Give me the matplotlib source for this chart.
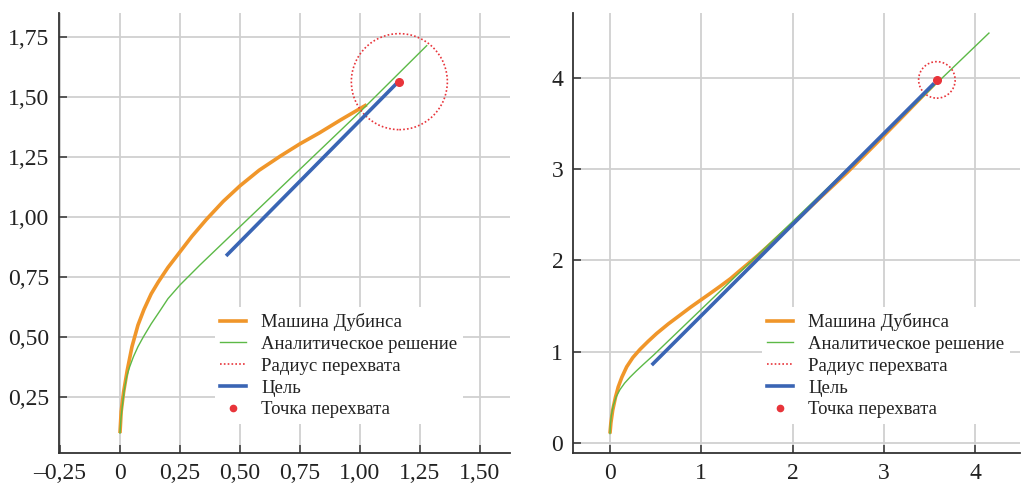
import matplotlib
matplotlib.use("Agg")
import matplotlib.pyplot as plt
from matplotlib.patches import Circle
from matplotlib.ticker import FuncFormatter
from matplotlib.lines import Line2D

plt.rcParams["font.family"] = ["Liberation Serif", "DejaVu Serif"]

# левая панель
dub_x_l = [0, 0.005, 0.015, 0.03, 0.05, 0.075, 0.10, 0.13, 0.16, 0.20, 0.25, 0.30, 0.36,
           0.43, 0.50, 0.58, 0.67, 0.75, 0.83, 0.92, 1.028]
dub_y_l = [0.10, 0.19, 0.27, 0.36, 0.46, 0.55, 0.615, 0.68, 0.73, 0.79, 0.855, 0.92, 0.99,
           1.065, 1.13, 1.195, 1.255, 1.305, 1.35, 1.405, 1.468]
an_x_l = [0, 0.004, 0.011, 0.018, 0.028, 0.04, 0.056, 0.075, 0.097, 0.13, 0.167, 0.20,
          0.25, 0.333, 0.5, 1.004, 1.278]
an_y_l = [0.10, 0.16, 0.224, 0.28, 0.335, 0.375, 0.418, 0.46, 0.50, 0.555, 0.61, 0.66,
          0.717, 0.80, 0.96, 1.442, 1.714]
tgt_x_l = [0.442, 1.153]
tgt_y_l = [0.838, 1.557]
hit_l = (1.164, 1.564)
radius_l = 0.2
xticks_l = [-0.25, 0, 0.25, 0.5, 0.75, 1.0, 1.25, 1.5]
yticks_l = [0.25, 0.5, 0.75, 1.0, 1.25, 1.5, 1.75]

# правая панель
dub_x_r = [0, 0.01, 0.03, 0.06, 0.091, 0.13, 0.183, 0.25, 0.329, 0.42, 0.512, 0.64, 0.767,
           0.88, 0.986, 1.1, 1.205, 1.32, 1.425, 1.52, 1.62, 1.72, 1.85, 2.0, 2.3, 2.6,
           2.9, 3.2, 3.55]
dub_y_r = [0.103, 0.22, 0.36, 0.50, 0.615, 0.72, 0.834, 0.935, 1.025, 1.115, 1.20, 1.305,
           1.40, 1.485, 1.56, 1.64, 1.715, 1.80, 1.89, 1.97, 2.055, 2.145, 2.265, 2.40,
           2.685, 2.965, 3.265, 3.57, 3.93]
an_x_r = [0, 0.005, 0.015, 0.036, 0.07, 0.11, 0.16, 0.219, 0.29, 0.365, 0.475, 4.15]
an_y_r = [0.103, 0.20, 0.30, 0.41, 0.51, 0.585, 0.655, 0.72, 0.79, 0.86, 0.96, 4.49]
tgt_x_r = [0.457, 3.55]
tgt_y_r = [0.853, 3.94]
hit_r = (3.58, 3.977)
radius_r = 0.2
xticks_r = [0, 1, 2, 3, 4]
yticks_r = [0, 1, 2, 3, 4]

labels = ["Машина Дубинса", "Аналитическое решение", "Радиус перехвата", "Цель", "Точка перехвата"]

c_orange = "#f0962a"
c_green = "#5cb947"
c_red = "#e8343a"
c_blue = "#3a65b4"


def comma(v, pos):
    if abs(v) < 1e-9:
        return "0"
    s = ("%.2f" % abs(v)).replace(".", ",")
    return ("\u2013" + s) if v < 0 else s


def panel(ax, dx, dy, ax_, ay_, tx, ty, hit, r, xt, yt, xlim, ylim, fmt, leg_x):
    ax.grid(True, color="#d0d0d0", lw=1.3, zorder=0)
    ax.plot(dx, dy, color=c_orange, lw=2.6, zorder=3, solid_capstyle="butt")
    ax.plot(ax_, ay_, color=c_green, lw=1.0, zorder=4)
    ax.add_patch(Circle(hit, r, fill=False, ls=(0, (1, 1.3)), lw=1.2, ec=c_red, zorder=5))
    ax.plot(tx, ty, color=c_blue, lw=2.6, zorder=5, solid_capstyle="butt")
    ax.plot([hit[0]], [hit[1]], "o", color=c_red, ms=5.5, zorder=6)

    ax.set_xlim(*xlim)
    ax.set_ylim(*ylim)
    ax.set_xticks(xt)
    ax.set_yticks(yt)
    if fmt:
        ax.xaxis.set_major_formatter(FuncFormatter(comma))
        ax.yaxis.set_major_formatter(FuncFormatter(comma))
    ax.tick_params(direction="in", length=6, width=1.1, color="#333333",
                   labelsize=17, pad=7, labelcolor="#222222")
    for s in ["top", "right"]:
        ax.spines[s].set_visible(False)
    for s in ["left", "bottom"]:
        ax.spines[s].set_color("#333333")
        ax.spines[s].set_linewidth(1.3)

    handles = [
        Line2D([], [], color=c_orange, lw=2.6),
        Line2D([], [], color=c_green, lw=1.0),
        Line2D([], [], color=c_red, lw=1.2, ls=(0, (1, 1.3))),
        Line2D([], [], color=c_blue, lw=2.6),
        Line2D([], [], color=c_red, marker="o", ls="none", ms=4.5),
    ]
    leg = ax.legend(handles, labels, loc="lower left", bbox_to_anchor=(leg_x, 0.066),
                    fontsize=13.5, frameon=True, fancybox=False, framealpha=1,
                    edgecolor="none", facecolor="white", handlelength=1.4,
                    handletextpad=0.8, labelspacing=0.25, borderpad=0.3,
                    borderaxespad=0)
    leg.set_zorder(10)
    for t in leg.get_texts():
        t.set_color("#222222")


fig = plt.figure(figsize=(10.21, 4.83), dpi=100)
ax1 = fig.add_axes([0.0578, 0.0621, 0.4417, 0.911])
ax2 = fig.add_axes([0.5612, 0.0621, 0.4378, 0.911])

panel(ax1, dub_x_l, dub_y_l, an_x_l, an_y_l, tgt_x_l, tgt_y_l, hit_l, radius_l,
      xticks_l, yticks_l, (-0.254, 1.625), (0.017, 1.85), True, 0.345)
panel(ax2, dub_x_r, dub_y_r, an_x_r, an_y_r, tgt_x_r, tgt_y_r, hit_r, radius_r,
      xticks_r, yticks_r, (-0.405, 4.49), (-0.11, 4.71), False, 0.422)

fig.savefig("out.png", dpi=100)
